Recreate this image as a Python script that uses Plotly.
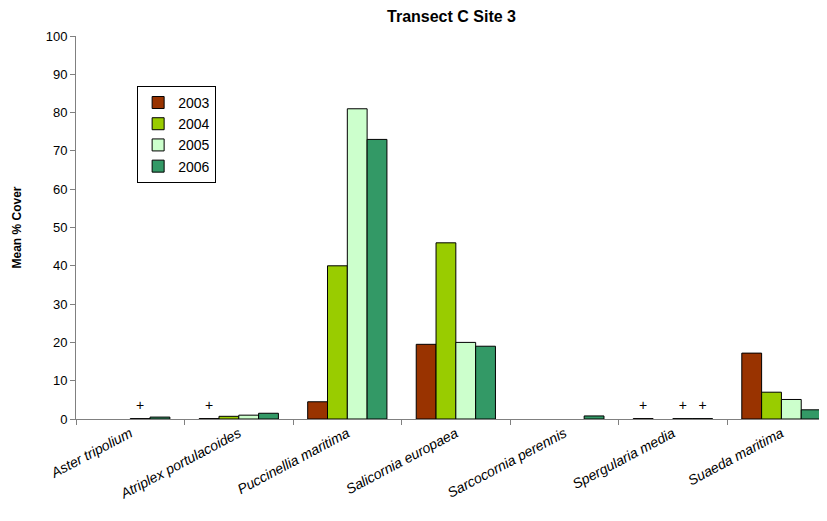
import plotly.graph_objects as go

species = ["Aster tripolium", "Atriplex portulacoides", "Puccinellia maritima",
           "Salicornia europaea", "Sarcocornia perennis", "Spergularia media", "Suaeda maritima"]
years = ["2003", "2004", "2005", "2006"]
v2003 = [None, 0.1, 4.5, 19.5, None, 0.1, 17.2]
v2004 = [None, 0.7, 40, 46, None, None, 7.0]
v2005 = [0.1, 1.0, 81, 20, None, 0.1, 5.1]
v2006 = [0.5, 1.5, 73, 19, 0.8, 0.1, 2.4]
t2003 = ["", "+", "", "", "", "+", ""]
t2004 = ["", "", "", "", "", "", ""]
t2005 = ["+", "", "", "", "", "+", ""]
t2006 = ["", "", "", "", "", "+", ""]
colors = ["#993300", "#99CC00", "#CCFFCC", "#339966"]

font = "Liberation Sans, Arial, sans-serif"
fig = go.Figure()
for yr, vals, c in zip(years, [v2003, v2004, v2005, v2006], colors):
    fig.add_trace(go.Bar(
        name=yr, x=species, y=vals, offsetgroup=yr,
        marker=dict(color=c, line=dict(color="black", width=1)),
    ))
for yr, vals, txt in zip(years, [v2003, v2004, v2005, v2006], [t2003, t2004, t2005, t2006]):
    ys = [v if t else None for v, t in zip(vals, txt)]
    fig.add_trace(go.Scatter(
        x=species, y=ys, text=txt, mode="markers+text", offsetgroup=yr,
        textposition="top center", textfont=dict(size=14, color="black", family=font),
        marker=dict(size=6, opacity=0), showlegend=False, hoverinfo="skip", cliponaxis=False,
    ))

fig.update_layout(
    width=819, height=513,
    margin=dict(l=68, r=0, t=28, b=102, autoexpand=False),
    paper_bgcolor="white", plot_bgcolor="white",
    barmode="group", bargap=0.27, bargroupgap=0,
    scattermode="group", scattergap=0.27,
    font=dict(family=font, size=13, color="black"),
    title=dict(text="<b>Transect C Site 3</b>", x=0.5, xanchor="center", xref="paper",
               y=1 - 8.5 / 513, yanchor="middle", yref="container",
               font=dict(size=16, family=font, color="black")),
    legend=dict(x=0.134, y=0.743, xanchor="center", yanchor="middle",
                bordercolor="black", borderwidth=1, bgcolor="white",
                font=dict(size=14, family=font), itemwidth=30, traceorder="normal"),
    showlegend=True,
)
fig.update_xaxes(
    range=[-0.5, 6.42], showline=True, linecolor="#808080", linewidth=1,
    ticks="outside", ticklen=5, tickcolor="#808080", tickson="boundaries",
    tickangle=-28, tickfont=dict(size=14, family=font, style="italic"),
    showgrid=False, automargin=False,
)
fig.update_yaxes(
    range=[0, 100], dtick=10, showline=True, linecolor="#808080", linewidth=1,
    ticks="outside", ticklen=5, tickcolor="#808080", showgrid=False, zeroline=False,
    tickfont=dict(size=13), automargin=False,
    title=dict(text="<b>Mean % Cover</b>", standoff=21, font=dict(size=12)),
)
fig.write_html("out.html")
